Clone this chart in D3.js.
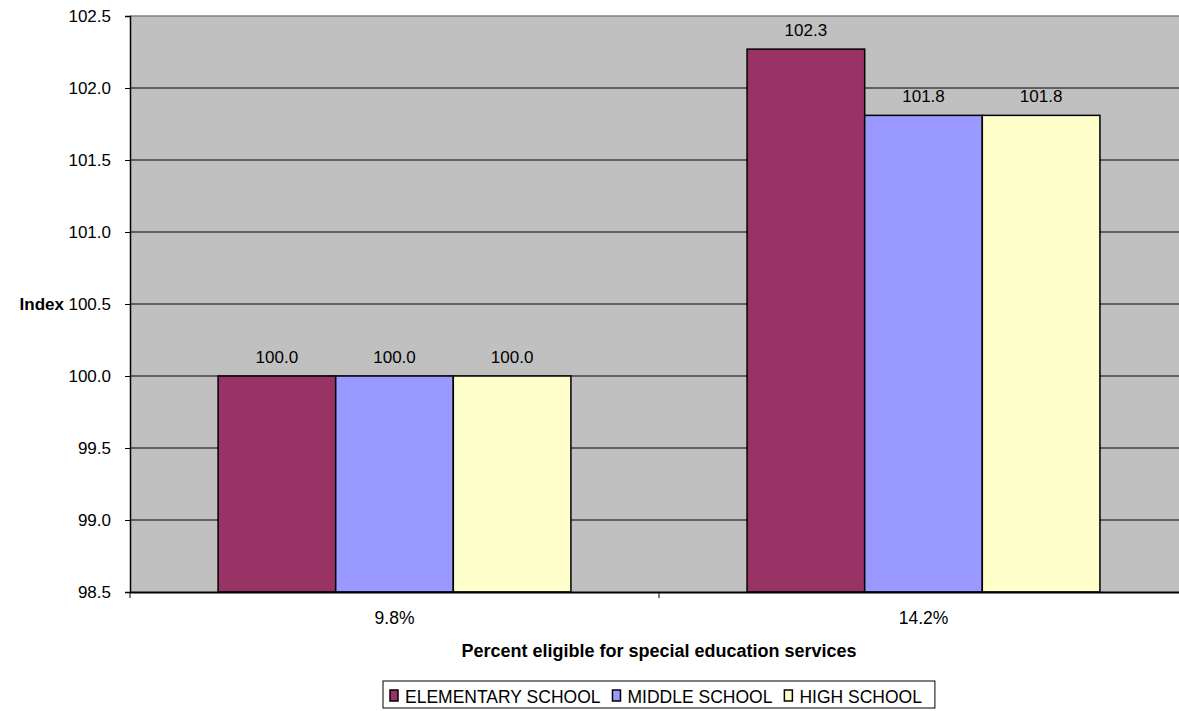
<!DOCTYPE html>
<html>
<head>
<meta charset="utf-8">
<script src="https://cdn.jsdelivr.net/npm/d3@7"></script>
<style>
  body { margin: 0; background: #fff; }
  text { font-family: Arial, "Liberation Sans", sans-serif; fill: #000; }
</style>
</head>
<body>
<svg id="chart"></svg>
<script>
// data
const categories = ['9.8%', '14.2%'];
const seriesNames = ['ELEMENTARY SCHOOL', 'MIDDLE SCHOOL', 'HIGH SCHOOL'];
const elementary = [100.0, 102.27];
const middle = [100.0, 101.81];
const high = [100.0, 101.81];
const yTicks = [98.5, 99.0, 99.5, 100.0, 100.5, 101.0, 101.5, 102.0, 102.5];
const colors = ['#993366', '#9999FF', '#FFFFCC'];

const width = 1179;
const height = 711;
const plotLeft = 130, plotRight = 1188, plotTop = 16, plotBottom = 592;

const svg = d3.select('#chart')
    .attr('width', width)
    .attr('height', height);

const rows = categories.map((c, i) => ({
    cat: c,
    vals: [elementary[i], middle[i], high[i]]
}));

const x0 = d3.scaleBand()
    .domain(categories)
    .range([plotLeft, plotRight]);

const gap = x0.bandwidth() * 0.1665;
const x1 = d3.scaleBand()
    .domain(seriesNames)
    .range([gap, x0.bandwidth() - gap]);

const yScale = d3.scaleLinear()
    .domain([98.5, 102.5])
    .range([plotBottom, plotTop]);

// plot area
svg.append('rect')
    .attr('x', plotLeft)
    .attr('y', plotTop)
    .attr('width', plotRight - plotLeft)
    .attr('height', plotBottom - plotTop)
    .attr('fill', '#C0C0C0');

svg.append('line')
    .attr('x1', plotLeft).attr('x2', plotRight)
    .attr('y1', yScale(102.5)).attr('y2', yScale(102.5))
    .attr('stroke', '#808080')
    .attr('stroke-width', 1.5);

// gridlines
svg.append('g')
    .selectAll('line')
    .data(yTicks.filter(t => t > 98.5 && t < 102.5))
    .enter()
    .append('line')
    .attr('x1', plotLeft).attr('x2', plotRight)
    .attr('y1', d => yScale(d)).attr('y2', d => yScale(d))
    .attr('stroke', '#000')
    .attr('stroke-width', 1);

// bars
const groups = svg.append('g')
    .selectAll('g')
    .data(rows)
    .enter()
    .append('g')
    .attr('transform', d => 'translate(' + x0(d.cat) + ',0)');

groups.selectAll('rect')
    .data(d => d.vals.map((v, i) => ({ name: seriesNames[i], value: v, i: i })))
    .enter()
    .append('rect')
    .attr('x', d => x1(d.name))
    .attr('y', d => yScale(d.value))
    .attr('width', x1.bandwidth())
    .attr('height', d => yScale(98.5) - yScale(d.value))
    .attr('fill', d => colors[d.i])
    .attr('stroke', '#000')
    .attr('stroke-width', 1.5);

groups.selectAll('text')
    .data(d => d.vals.map((v, i) => ({ name: seriesNames[i], value: v })))
    .enter()
    .append('text')
    .attr('x', d => x1(d.name) + x1.bandwidth() / 2)
    .attr('y', d => yScale(d.value) - 13)
    .attr('text-anchor', 'middle')
    .style('font-size', '17px')
    .text(d => d3.format('.1f')(d.value));

// y axis
const yAxis = d3.axisLeft(yScale)
    .tickValues(yTicks)
    .tickFormat(d3.format('.1f'))
    .tickSize(5)
    .tickPadding(14);

const yG = svg.append('g')
    .attr('transform', 'translate(' + plotLeft + ',0)')
    .call(yAxis);
yG.select('.domain').attr('stroke', '#000').attr('stroke-width', 1.5);
yG.selectAll('.tick line').attr('stroke', '#000');
yG.selectAll('.tick text')
    .style('font-size', '17px')
    .style('font-family', 'Arial, "Liberation Sans", sans-serif')
    .attr('fill', '#000');

// x axis
const xAxis = d3.axisBottom(x0)
    .tickSize(0)
    .tickPadding(20);

const xG = svg.append('g')
    .attr('transform', 'translate(0,' + plotBottom + ')')
    .call(xAxis);
xG.select('.domain').attr('stroke', '#000').attr('stroke-width', 2);
xG.selectAll('.tick text')
    .style('font-size', '17.5px')
    .style('font-family', 'Arial, "Liberation Sans", sans-serif')
    .attr('fill', '#000');

// category separators below the axis
xG.selectAll('line.sep')
    .data([plotLeft, plotLeft + x0.bandwidth(), plotRight])
    .enter()
    .append('line')
    .attr('class', 'sep')
    .attr('x1', d => d).attr('x2', d => d)
    .attr('y1', 0).attr('y2', 6)
    .attr('stroke', '#000');

// axis titles
svg.append('text')
    .attr('x', 659)
    .attr('y', 657)
    .attr('text-anchor', 'middle')
    .style('font-size', '18px')
    .style('font-weight', 'bold')
    .text('Percent eligible for special education services');

svg.append('text')
    .attr('x', 64)
    .attr('y', yScale(100.5) + 6)
    .attr('text-anchor', 'end')
    .style('font-size', '17px')
    .style('font-weight', 'bold')
    .text('Index');

// legend
const legend = svg.append('g');
const legendBox = legend.append('rect')
    .attr('fill', '#fff')
    .attr('stroke', '#000')
    .attr('stroke-width', 1);

let lx = 390;
let lastEnd = lx;
seriesNames.forEach((name, i) => {
    legend.append('rect')
        .attr('x', lx)
        .attr('y', 690)
        .attr('width', 8)
        .attr('height', 11)
        .attr('fill', colors[i])
        .attr('stroke', '#000')
        .attr('stroke-width', 1.5);
    const t = legend.append('text')
        .attr('x', lx + 15)
        .attr('y', 703)
        .style('font-size', '17.5px')
        .text(name);
    lastEnd = lx + 15 + t.node().getComputedTextLength();
    lx = lastEnd + 12;
});

legendBox
    .attr('x', 383)
    .attr('y', 681)
    .attr('width', lastEnd + 13 - 383)
    .attr('height', 27);
</script>
</body>
</html>
